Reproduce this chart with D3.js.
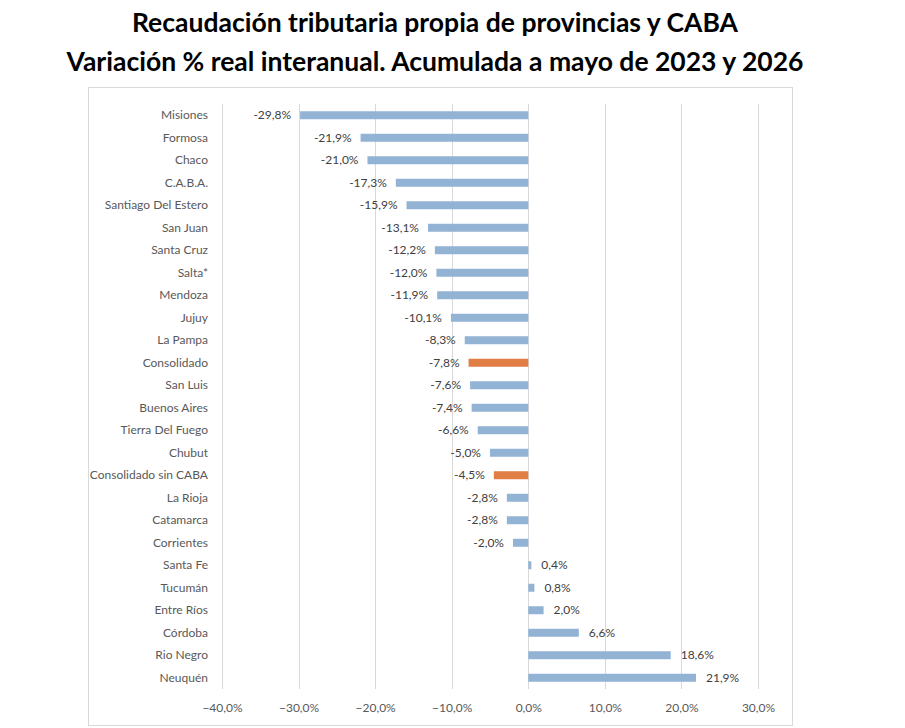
<!DOCTYPE html>
<html><head><meta charset="utf-8">
<script src="https://cdn.jsdelivr.net/npm/d3@7"></script>
<style>body{margin:0;background:#fff;} svg{display:block;}</style>
</head><body>
<script>
const categories = ["Misiones","Formosa","Chaco","C.A.B.A.","Santiago Del Estero","San Juan","Santa Cruz","Salta*","Mendoza","Jujuy","La Pampa","Consolidado","San Luis","Buenos Aires","Tierra Del Fuego","Chubut","Consolidado sin CABA","La Rioja","Catamarca","Corrientes","Santa Fe","Tucumán","Entre Ríos","Córdoba","Rio Negro","Neuquén"];
const values = [-29.8,-21.9,-21.0,-17.3,-15.9,-13.1,-12.2,-12.0,-11.9,-10.1,-8.3,-7.8,-7.6,-7.4,-6.6,-5.0,-4.5,-2.8,-2.8,-2.0,0.4,0.8,2.0,6.6,18.6,21.9];
const highlighted = ["Consolidado","Consolidado sin CABA"];
const xTicks = [-40,-30,-20,-10,0,10,20,30];
const titleLines = ["Recaudación tributaria propia de provincias y CABA","Variación % real interanual. Acumulada a mayo de 2023 y 2026"];

const W = 905, H = 728;
const font = "Lato, 'Noto Sans', sans-serif";
const svg = d3.select("body").append("svg").attr("width", W).attr("height", H);
svg.append("rect").attr("width", W).attr("height", H).attr("fill", "#fff");

// chart border
svg.append("rect").attr("x", 88.5).attr("y", 87.5).attr("width", 704).attr("height", 638)
  .attr("fill", "none").attr("stroke", "#D9D9D9").attr("stroke-width", 1);

// title
svg.selectAll("text.title").data(titleLines).enter().append("text")
  .attr("class", "title")
  .attr("x", 435).attr("y", (d, i) => 32 + i * 39)
  .attr("text-anchor", "middle")
  .attr("font-family", font).attr("font-weight", "bold").attr("font-size", 26.5)
  .attr("fill", "#000").text(d => d);

const x = d3.scaleLinear().domain([-40, 30]).range([222, 758]);
const y = d3.scaleBand().domain(categories).range([104, 689]).paddingInner(0.64).paddingOuter(0.32);

// gridlines
svg.append("g").selectAll("line").data(xTicks).enter().append("line")
  .attr("x1", d => Math.round(x(d)) + 0.5).attr("x2", d => Math.round(x(d)) + 0.5)
  .attr("y1", 104).attr("y2", 689)
  .attr("stroke", "#D9D9D9").attr("stroke-width", 1);

// x axis
const xAxis = d3.axisBottom(x).tickValues(xTicks).tickSize(0).tickPadding(0)
  .tickFormat(d => d3.format(".1f")(d).replace(".", ",") + "%");
const gx = svg.append("g").attr("transform", "translate(0,689)").call(xAxis);
gx.select(".domain").remove();
gx.selectAll("text").attr("dy", null).attr("y", 23)
  .attr("font-family", font).attr("font-size", 12).attr("fill", "#595959");

// y labels
const yAxis = d3.axisLeft(y).tickSize(0).tickPadding(0);
const gy = svg.append("g").attr("transform", "translate(208,0)").call(yAxis);
gy.select(".domain").remove();
gy.selectAll("text").attr("font-family", font).attr("font-size", 12).attr("fill", "#595959");

const data = categories.map((c, i) => ({c, v: values[i]}));

// bars
svg.append("g").selectAll("rect").data(data).enter().append("rect")
  .attr("x", d => Math.min(x(0), x(d.v)))
  .attr("width", d => Math.abs(x(d.v) - x(0)))
  .attr("y", d => y(d.c) + y.bandwidth()/2 - 4)
  .attr("height", 8)
  .attr("fill", d => highlighted.includes(d.c) ? "#E07E46" : "#93B3D5");

// value labels
svg.append("g").selectAll("text").data(data).enter().append("text")
  .attr("x", d => d.v < 0 ? x(d.v) - 9 : x(d.v) + 10)
  .attr("y", d => y(d.c) + y.bandwidth()/2)
  .attr("dy", "0.35em")
  .attr("text-anchor", d => d.v < 0 ? "end" : "start")
  .attr("font-family", font).attr("font-size", 12).attr("fill", "#404040")
  .text(d => d3.format(".1f")(d.v).replace("−", "-").replace(".", ",") + "%");
</script>
</body></html>
